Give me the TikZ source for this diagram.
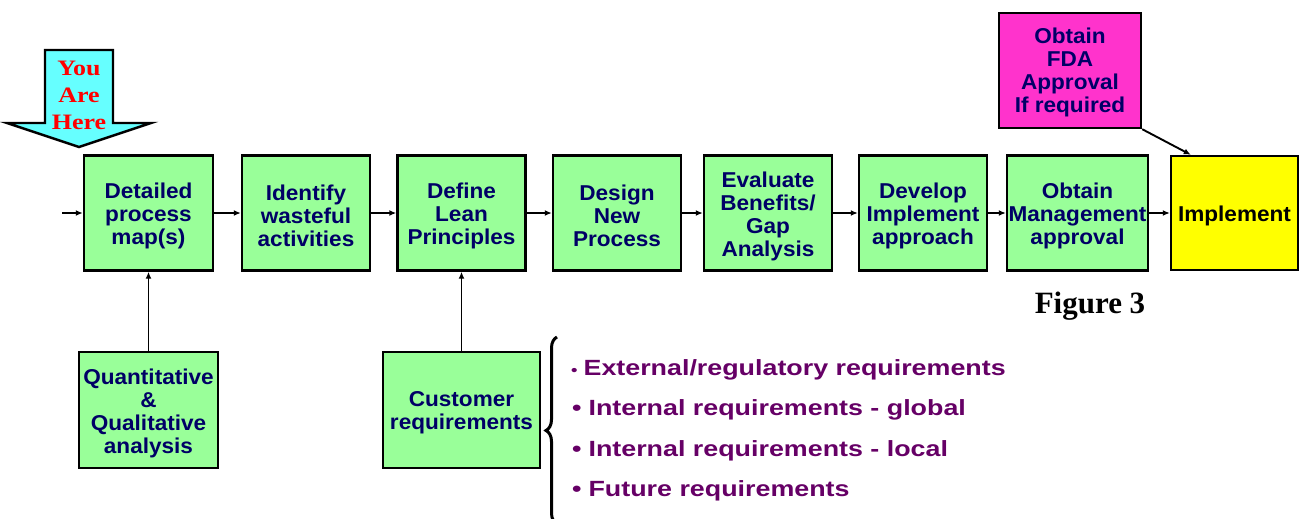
\documentclass[tikz,border=0pt]{standalone}
\usepackage{fontspec}
\usetikzlibrary{arrows.meta,decorations.pathreplacing}
\newfontfamily\boxsans[FakeStretch=1.05]{Liberation Sans}
\newfontfamily\listsans[FakeStretch=1.22]{Liberation Sans}
\newfontfamily\herefont[FakeStretch=1.18]{Liberation Serif}
\newfontfamily\figfont{Liberation Serif}
\definecolor{stepgreen}{HTML}{99FF99}
\definecolor{herecyan}{HTML}{66FFFF}
\definecolor{fdapink}{HTML}{FF33CC}
\definecolor{implyellow}{HTML}{FFFF00}
\definecolor{navytext}{HTML}{000066}
\definecolor{listpurple}{HTML}{660066}
\begin{document}
\begin{tikzpicture}[x=1pt,y=-1pt,
  boxbase/.style={draw=black,line width=2.4pt,inner sep=0pt},
  stepbox/.style={boxbase,fill=stepgreen,minimum width=128pt,minimum height=115pt},
  boxtext/.style={inner sep=0pt,align=center,text=navytext,
    font=\boxsans\bfseries\fontsize{21.5}{23}\selectfont},
  flow/.style={line width=1.9pt,-{Latex[length=7pt,width=6pt]}},
  listitem/.style={anchor=base west,inner sep=0pt,text=listpurple,
    font=\listsans\bfseries\fontsize{22}{25}\selectfont}]
\useasboundingbox (0,0) rectangle (1299,519);

% "You Are Here" block arrow
\path[fill=herecyan,draw=black,line width=2.4pt,line join=miter]
  (45,50) -- (113,50) -- (113,123) -- (151,123) -- (79,147) -- (7,123) -- (45,123) -- cycle;
\node[align=center,inner sep=0pt,text=red,
  font=\herefont\bfseries\fontsize{22}{27}\selectfont] (here) at (79,95) {You\\Are\\Here};

% main process chain (frames)
\node[stepbox,minimum width=129pt] (map) at (148.5,213) {};
\node[stepbox] (waste) at (306,213) {};
\node[stepbox] (lean)  at (461.5,213) {};
\node[stepbox] (design) at (617,213) {};
\node[stepbox] (eval)  at (768,213) {};
\node[stepbox] (devel) at (923,213) {};
\node[stepbox,minimum width=141pt] (mgmt) at (1077.5,213) {};
\node[boxbase,fill=implyellow,minimum width=127pt,minimum height=114pt] (impl) at (1234.5,213) {};

% approval side branch and inputs below the chain (frames)
\node[boxbase,fill=fdapink,minimum width=142pt,minimum height=115pt] (fda) at (1070,70.5) {};
\node[stepbox,minimum width=139pt,minimum height=116pt] (quant) at (148.5,410) {};
\node[stepbox,minimum width=157pt,minimum height=116pt] (cust) at (461.5,410) {};

% box captions, set slightly below the geometric centre
\node[boxtext] (map-t)    at ([yshift=-3pt]map.center)    {Detailed\\process\\map(s)};
\node[boxtext] (waste-t)  at ([yshift=-3pt]waste.center)  {Identify\\wasteful\\activities};
\node[boxtext] (lean-t)   at ([yshift=-3pt]lean.center)   {Define\\Lean\\Principles};
\node[boxtext] (design-t) at ([yshift=-3pt]design.center) {Design\\New\\Process};
\node[boxtext] (eval-t)   at ([yshift=-3.5pt]eval.center) {Evaluate\\Benefits/\\Gap\\Analysis};
\node[boxtext] (devel-t)  at ([yshift=-3pt]devel.center)  {Develop\\Implement\\approach};
\node[boxtext] (mgmt-t)   at ([yshift=-3pt]mgmt.center)   {Obtain\\Management\\approval};
\node[boxtext,text=black] (impl-t) at ([yshift=-3pt]impl.center) {Implement};
\node[boxtext] (fda-t)    at ([yshift=-2pt]fda.center)    {Obtain\\FDA\\Approval\\If required};
\node[boxtext] (quant-t)  at ([yshift=-3pt]quant.center)  {Quantitative\\\&\\Qualitative\\analysis};
\node[boxtext] (cust-t)   at ([yshift=-3pt]cust.center)   {Customer\\requirements};

% connectors
\coordinate (entry) at (62,213);
\draw[flow] (entry) -- (map.west);
\draw[flow] (map) -- (waste);
\draw[flow] (waste) -- (lean);
\draw[flow] (lean) -- (design);
\draw[flow] (design) -- (eval);
\draw[flow] (eval) -- (devel);
\draw[flow] (devel) -- (mgmt);
\draw[flow] (mgmt) -- (impl);
\draw[flow] (fda.south east) -- ([xshift=21pt]impl.north west);
\draw[flow] (quant.north) -- (map.south);
\draw[flow] (cust.north) -- (lean.south);

% requirement list with brace
\draw[line width=3pt,decorate,decoration={brace,amplitude=11pt,aspect=0.5}]
  (557,524) -- (557,337);
\node[listitem] (req1) at (571,375) {{\fontsize{15}{15}\selectfont•}\hspace{6pt}External/regulatory requirements};
\node[listitem] (req2) at (572,415.5) {•\hspace{7pt}Internal requirements - global};
\node[listitem] (req3) at (572,456) {•\hspace{7pt}Internal requirements - local};
\node[listitem] (req4) at (572,496.5) {•\hspace{7pt}Future requirements};

% caption
\node[anchor=base,inner sep=0pt,font=\figfont\bfseries\fontsize{31}{31}\selectfont] (fig) at (1090,313) {Figure 3};
\end{tikzpicture}
\end{document}
